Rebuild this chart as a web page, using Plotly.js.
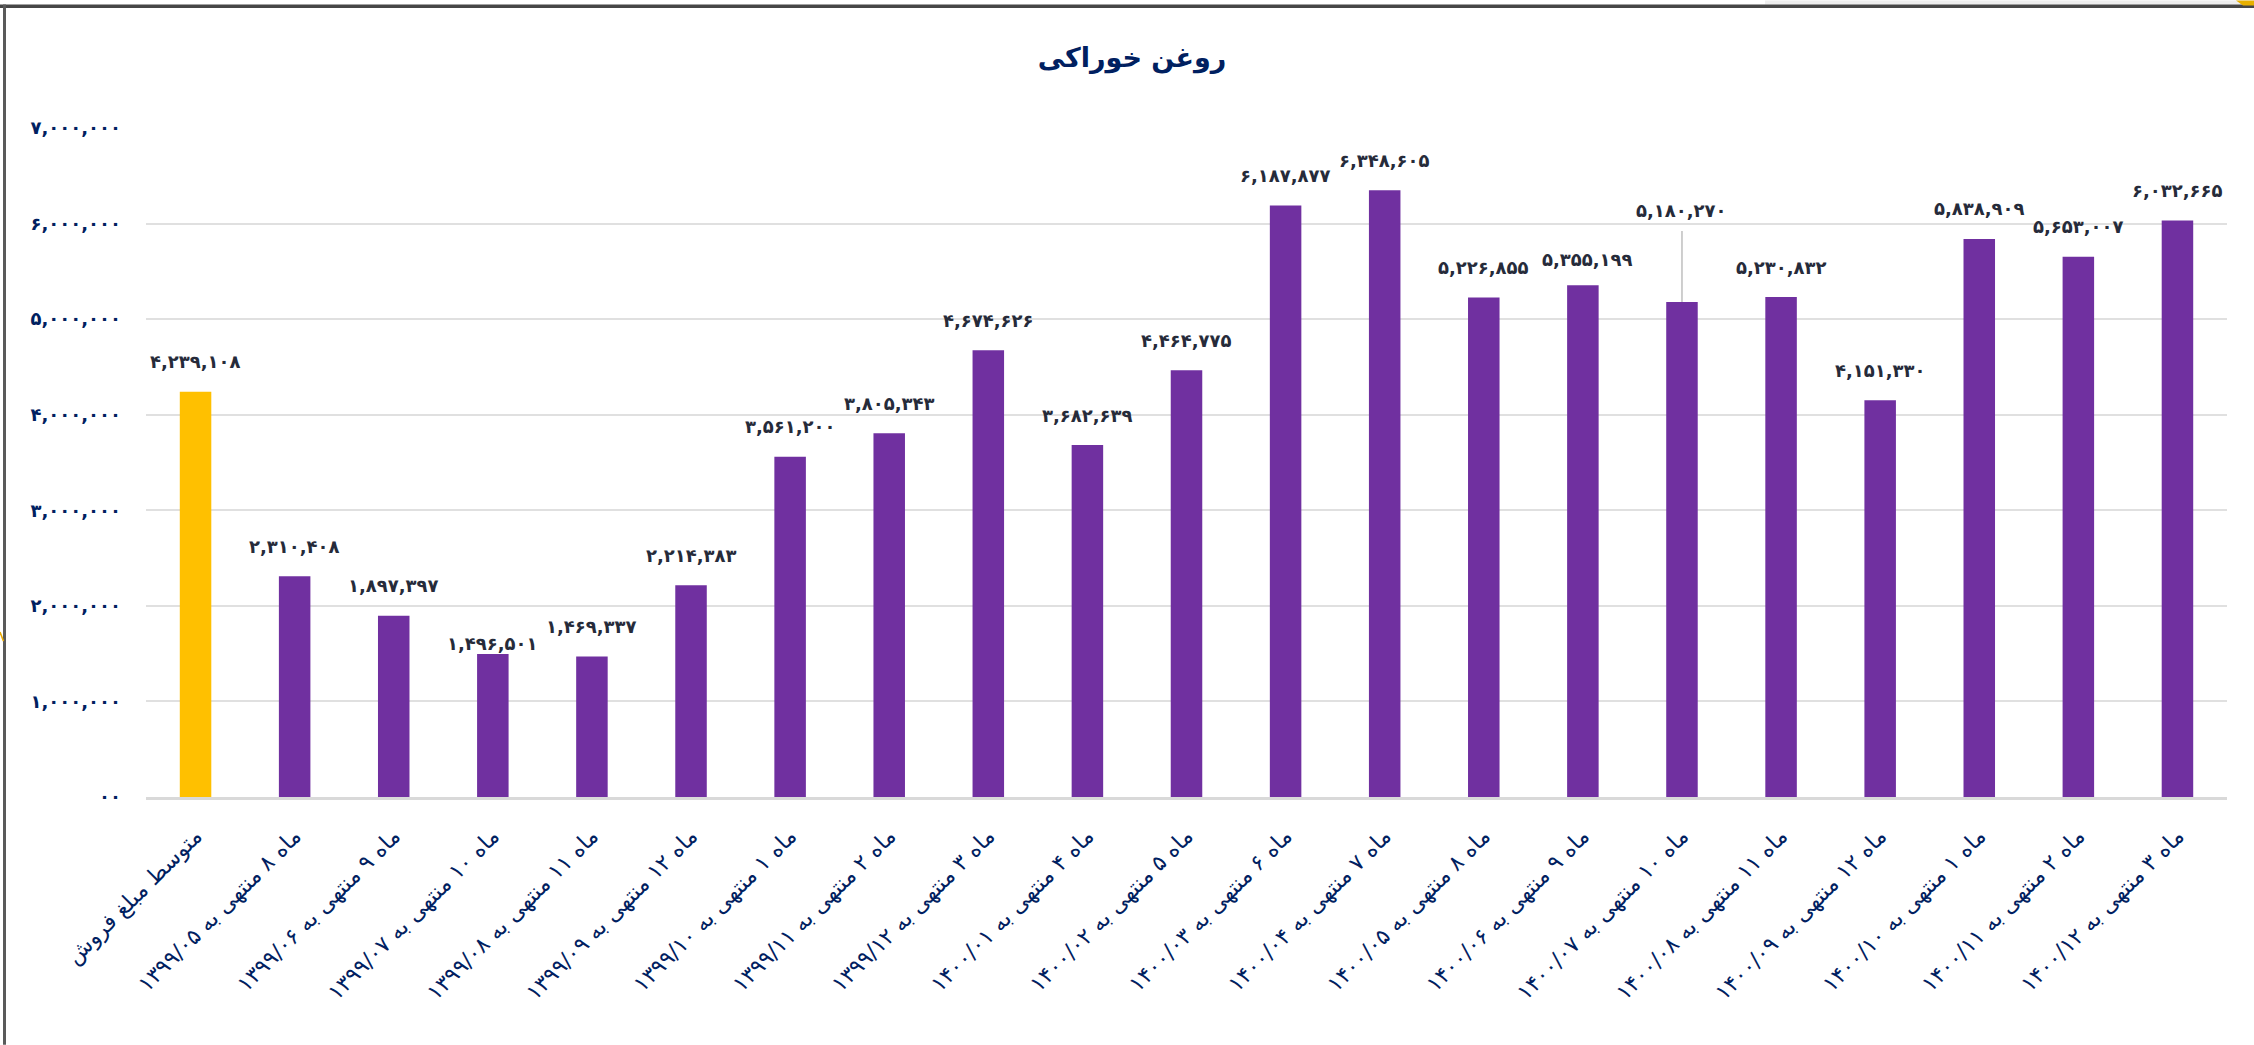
<!DOCTYPE html>
<html>
<head>
<meta charset="utf-8">
<script src="https://cdn.plot.ly/plotly-3.0.1.min.js"></script>
<style>
html,body{margin:0;padding:0;background:#ffffff;}
#chart{width:2254px;height:1045px;}
</style>
</head>
<body>
<div id="chart"></div>
<script>
// ---------------- DATA ----------------
const categories = [
  "متوسط مبلغ فروش",
  "ماه ۸ منتهی به ۱۳۹۹/۰۵",
  "ماه ۹ منتهی به ۱۳۹۹/۰۶",
  "ماه ۱۰ منتهی به ۱۳۹۹/۰۷",
  "ماه ۱۱ منتهی به ۱۳۹۹/۰۸",
  "ماه ۱۲ منتهی به ۱۳۹۹/۰۹",
  "ماه ۱ منتهی به ۱۳۹۹/۱۰",
  "ماه ۲ منتهی به ۱۳۹۹/۱۱",
  "ماه ۳ منتهی به ۱۳۹۹/۱۲",
  "ماه ۴ منتهی به ۱۴۰۰/۰۱",
  "ماه ۵ منتهی به ۱۴۰۰/۰۲",
  "ماه ۶ منتهی به ۱۴۰۰/۰۳",
  "ماه ۷ منتهی به ۱۴۰۰/۰۴",
  "ماه ۸ منتهی به ۱۴۰۰/۰۵",
  "ماه ۹ منتهی به ۱۴۰۰/۰۶",
  "ماه ۱۰ منتهی به ۱۴۰۰/۰۷",
  "ماه ۱۱ منتهی به ۱۴۰۰/۰۸",
  "ماه ۱۲ منتهی به ۱۴۰۰/۰۹",
  "ماه ۱ منتهی به ۱۴۰۰/۱۰",
  "ماه ۲ منتهی به ۱۴۰۰/۱۱",
  "ماه ۳ منتهی به ۱۴۰۰/۱۲"
];

const salesValues = [
  4239108, 2310408, 1897397, 1496501, 1469337, 2214383,
  3561200, 3805343, 4674626, 3682639, 4464775, 6187877,
  6348605, 5226855, 5355199, 5180270, 5230832, 4151330,
  5838909, 5653007, 6032665
];

const yTickVals = [0, 1000000, 2000000, 3000000, 4000000, 5000000, 6000000, 7000000];
const yTickText = ["۰۰", "۱,۰۰۰,۰۰۰", "۲,۰۰۰,۰۰۰", "۳,۰۰۰,۰۰۰", "۴,۰۰۰,۰۰۰", "۵,۰۰۰,۰۰۰", "۶,۰۰۰,۰۰۰", "۷,۰۰۰,۰۰۰"];

const chartTitle = "روغن خوراکی";

// ---------------- STYLE ----------------
const FONT = "DejaVu Sans";
const NAVY = "#002060";
const PURPLE = "#7030A0";
const YELLOW = "#FFC000";
const LABEL_COLOR = "#262b3a";

const W = 2254, H = 1045;
const L = 146, R = 27, T = 127.5, B = 248;
const plotW = W - L - R, plotH = H - T - B;
const px = x => (x - L) / plotW;
const py = y => (H - B - y) / plotH;

const faDigits = "۰۱۲۳۴۵۶۷۸۹";
function toFa(n) {
  return n.toLocaleString("en-US").replace(/\d/g, d => faDigits[+d]);
}

const barColors = salesValues.map((v, i) => i === 0 ? YELLOW : PURPLE);

// label placement tweaks (pixel gaps above bar tops)
const LABEL_GAP = 30;
const labelTweak = {3: {gap: 10}, 14: {gap: 26, dx: 5}, 15: {leader: 91}};

const labelAnnotations = salesValues.map((v, i) => {
  const t = labelTweak[i] || {};
  const base = {
    x: categories[i], y: v, xref: "x", yref: "y",
    text: toFa(v),
    font: {family: FONT, size: 18, color: LABEL_COLOR, weight: "bold"},
    xanchor: "center", yanchor: "middle"
  };
  if (t.leader) {
    return Object.assign(base, {
      showarrow: true, ax: 0, ay: -t.leader, axref: "pixel", ayref: "pixel",
      arrowhead: 0, arrowwidth: 1.5, arrowcolor: "#bfbfbf",
      standoff: 0, startstandoff: 8
    });
  }
  return Object.assign(base, {showarrow: false, yshift: t.gap || LABEL_GAP, xshift: t.dx || 0});
});

const trace = {
  type: "bar",
  x: categories,
  y: salesValues,
  marker: {color: barColors, line: {width: 0}},
  hoverinfo: "skip"
};

const frameShapes = [
  {type: "rect", xref: "paper", yref: "paper", x0: px(1765), x1: px(W), y0: py(4), y1: py(0),
   fillcolor: "#eeeeee", line: {width: 0}, layer: "above"},
  {type: "rect", xref: "paper", yref: "paper", x0: px(0), x1: px(W), y0: py(7.5), y1: py(4),
   fillcolor: "#474747", line: {width: 0}, layer: "above"},
  {type: "rect", xref: "paper", yref: "paper", x0: px(3), x1: px(6), y0: py(H), y1: py(4),
   fillcolor: "#5a5a5a", line: {width: 0}, layer: "above"},
  {type: "path", xref: "paper", yref: "paper",
   path: `M ${px(2236)} ${py(0)} L ${px(W)} ${py(0)} L ${px(W)} ${py(5)} L ${px(2243)} ${py(5)} Z`,
   fillcolor: "#E8B000", line: {width: 0}, layer: "above"},
  {type: "line", xref: "paper", yref: "paper", x0: px(0), y0: py(632), x1: px(3.5), y1: py(641),
   line: {color: "#E8A800", width: 1.5}, layer: "above"}
];

const layout = {
  width: W, height: H,
  margin: {l: L, r: R, t: T, b: B, pad: 0},
  paper_bgcolor: "#ffffff",
  plot_bgcolor: "#ffffff",
  showlegend: false,
  bargap: 0.682,
  title: {
    text: chartTitle,
    font: {family: FONT, size: 27, color: NAVY, weight: "bold"},
    xref: "container", x: 1132 / W, xanchor: "center",
    yref: "container", y: 1 - 58 / H, yanchor: "middle"
  },
  xaxis: {
    type: "category",
    tickangle: -45,
    tickfont: {family: FONT, size: 22, color: NAVY},
    showgrid: false,
    showline: true, linecolor: "#d9d9d9", linewidth: 2.5,
    ticks: "",
    ticklabelstandoff: 15,
    fixedrange: true
  },
  yaxis: {
    range: [0, 7000000],
    tickvals: yTickVals,
    ticktext: yTickText,
    tickfont: {family: FONT, size: 18, color: NAVY, weight: "bold"},
    showgrid: true, gridcolor: "#e0e0e0", gridwidth: 2,
    zeroline: false, showline: false,
    ticks: "",
    ticklabelstandoff: 24,
    fixedrange: true
  },
  annotations: labelAnnotations,
  shapes: frameShapes
};

Plotly.newPlot("chart", [trace], layout, {staticPlot: true, displayModeBar: false});
</script>
</body>
</html>
